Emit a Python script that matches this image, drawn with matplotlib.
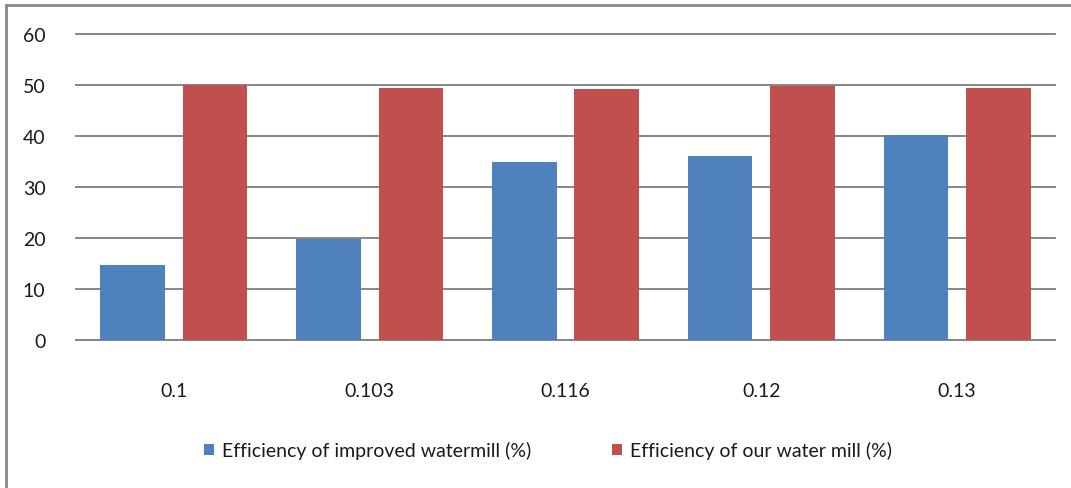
import matplotlib
matplotlib.use("Agg")
import matplotlib.pyplot as plt
from matplotlib.lines import Line2D
import numpy as np

categories = ["0.1", "0.103", "0.116", "0.12", "0.13"]
improved = [14.7, 19.8, 35.0, 36.0, 40.1]
ours = [50.0, 49.4, 49.2, 49.8, 49.4]
series_names = ["Efficiency of improved watermill (%)", "Efficiency of our water mill (%)"]
yticks = [0, 10, 20, 30, 40, 50, 60]

plt.rcParams['font.family'] = ['Lato', 'DejaVu Sans']

W, H = 1071, 489
fig = plt.figure(figsize=(W/100, H/100), dpi=100)
ax = fig.add_axes([76/W, 1 - 341/H, (1055-76)/W, (341-35)/H])

x = np.arange(len(categories))
bw = 0.33
off = 0.21
blue = "#4f81bd"
red = "#c0504d"
ax.bar(x - off, improved, bw, color=blue, zorder=3, label=series_names[0])
ax.bar(x + off, ours, bw, color=red, zorder=3, label=series_names[1])

ax.set_xlim(-0.5, len(categories) - 0.5)
ax.set_ylim(0, 60)
ax.set_yticks(yticks)
ax.set_yticklabels([str(t) for t in yticks])
ax.yaxis.grid(True, color="#868686", linewidth=1.4, zorder=0)
for gl in ax.yaxis.get_gridlines():
    gl.set_clip_on(False)
ax.set_xticks(x)
ax.set_xticklabels(categories)
for s in ["top", "right", "left"]:
    ax.spines[s].set_visible(False)
ax.spines["bottom"].set_color("#868686")
ax.spines["bottom"].set_linewidth(1.4)
ax.tick_params(axis="both", length=0, labelsize=14, colors="#1a1a1a")
ax.tick_params(axis="y", pad=22)
ax.tick_params(axis="x", pad=30)

leg = fig.legend(loc="center", bbox_to_anchor=(548/W, 1 - 451/H), ncol=2, frameon=False,
                 fontsize=14, handlelength=0.5, handleheight=0.5, handletextpad=0.4,
                 columnspacing=4.2)
for t in leg.get_texts():
    t.set_color("#1a1a1a")

# outer border (left and top visible)
fig.add_artist(Line2D([6/W, 6/W], [0, 1 - 6/H], transform=fig.transFigure, color="#8a8a8a", linewidth=2))
fig.add_artist(Line2D([6/W, 1], [1 - 6/H, 1 - 6/H], transform=fig.transFigure, color="#8a8a8a", linewidth=2))

fig.savefig("out.png", dpi=100)
